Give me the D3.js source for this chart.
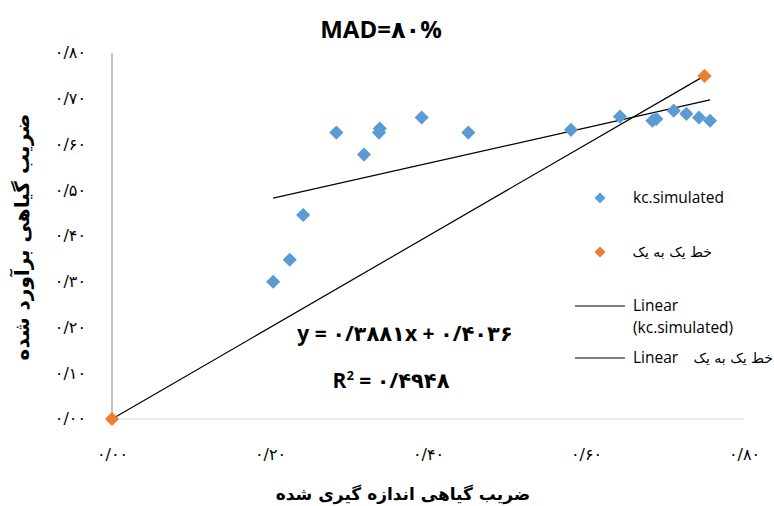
<!DOCTYPE html>
<html><head><meta charset="utf-8">
<script src="https://cdn.jsdelivr.net/npm/d3@7"></script>
<style>body{margin:0;background:#fff}svg{display:block}</style>
</head><body>
<script>
const measured = [0.204,0.225,0.242,0.284,0.319,0.338,0.339,0.392,0.451,0.581,0.643,0.684,0.689,0.711,0.727,0.743,0.757];
const simulated = [0.300,0.348,0.446,0.626,0.578,0.626,0.635,0.659,0.626,0.632,0.661,0.652,0.656,0.674,0.667,0.659,0.652];
const oneToOneX = [0.00,0.75];
const oneToOneY = [0.00,0.75];
const trendSlope = 0.3881, trendIntercept = 0.4036;
const xTicks = [0,0.2,0.4,0.6,0.8];
const yTicks = [0,0.1,0.2,0.3,0.4,0.5,0.6,0.7,0.8];
const titleText = "MAD=۸۰%";
const xTitle = "ضریب گیاهی اندازه گیری شده";
const yTitle = "ضریب گیاهی برآورد شده";
const eqText = "y = ۰/۳۸۸۱x + ۰/۴۰۳۶";
const r2Value = "۰/۴۹۴۸";
const legendSeries = ["kc.simulated","خط یک به یک"];

const fa = s => s.replace(/\d/g, d => "۰۱۲۳۴۵۶۷۸۹"[+d]);
const W=774,H=506;
const svg=d3.select("body").append("svg").attr("width",W).attr("height",H);
const x=d3.scaleLinear().domain([0,0.8]).range([112,744]);
const y=d3.scaleLinear().domain([0,0.8]).range([419,53]);
const font="'DejaVu Sans', 'Open Sans', sans-serif";
const lf="'Open Sans','DejaVu Sans',sans-serif";
const tf=d=>fa(d3.format(".2f")(d)).replace(".","/");

// axes
svg.append("line").attr("x1",x(0)).attr("x2",x(0.8)).attr("y1",y(0)).attr("y2",y(0)).attr("stroke","#d9d9d9");
svg.append("line").attr("x1",x(0)).attr("x2",x(0)).attr("y1",y(0)).attr("y2",y(0.8)).attr("stroke","#868686");
const xa=svg.append("g").attr("transform",`translate(0,${y(0)+27})`)
  .call(d3.axisBottom(x).tickValues(xTicks).tickSize(0).tickFormat(tf));
xa.select(".domain").remove();
xa.selectAll("text").attr("font-family",font).attr("font-size",16).attr("fill","#000");
const ya=svg.append("g").attr("transform",`translate(86,0)`)
  .call(d3.axisLeft(y).tickValues(yTicks).tickSize(0).tickPadding(0).tickFormat(tf));
ya.select(".domain").remove();
ya.selectAll("text").attr("font-family",font).attr("font-size",16).attr("fill","#000").attr("dy","0.3em");

// 1:1 line
svg.append("line").attr("x1",x(oneToOneX[0])).attr("y1",y(oneToOneY[0])).attr("x2",x(oneToOneX[1])).attr("y2",y(oneToOneY[1])).attr("stroke","#000").attr("stroke-width",1.2);
// trend line
const tx0=d3.min(measured), tx1=d3.max(measured);
svg.append("line").attr("x1",x(tx0)).attr("y1",y(trendSlope*tx0+trendIntercept)).attr("x2",x(tx1)).attr("y2",y(trendSlope*tx1+trendIntercept)).attr("stroke","#000").attr("stroke-width",1.2);

const diamond=d3.symbol(d3.symbolSquare,100)();
svg.append("g").selectAll("path").data(measured).join("path")
  .attr("d",diamond).attr("transform",(d,i)=>`translate(${x(d)},${y(simulated[i])}) rotate(45)`).attr("fill","#5B9BD5");
svg.append("g").selectAll("path").data(oneToOneX).join("path")
  .attr("d",diamond).attr("transform",(d,i)=>`translate(${x(d)},${y(oneToOneY[i])}) rotate(45)`).attr("fill","#ED7D31");

// titles
svg.append("text").attr("x",381).attr("y",38).attr("text-anchor","middle").attr("font-family",lf).attr("font-weight","bold").attr("font-size",24).text(titleText);
svg.append("text").attr("x",403).attr("y",500).attr("text-anchor","middle").attr("font-family",font).attr("font-weight","bold").attr("font-size",17).text(xTitle);
svg.append("text").attr("transform","translate(29,237) rotate(-90)").attr("text-anchor","middle").attr("font-family",font).attr("font-weight","bold").attr("font-size",20).text(yTitle);

// equation
svg.append("text").attr("x",405).attr("y",341).attr("text-anchor","middle").attr("font-family",lf).attr("font-weight","bold").attr("font-size",21).text(eqText);
const r2=svg.append("text").attr("x",391).attr("y",388).attr("text-anchor","middle").attr("font-family",lf).attr("font-weight","bold").attr("font-size",21);
r2.append("tspan").text("R");
r2.append("tspan").attr("font-size",13).attr("dy",-8).text("2");
r2.append("tspan").attr("dy",8).text(" = "+r2Value);

// legend
const sd=d3.symbol(d3.symbolSquare,60)();
svg.append("path").attr("d",sd).attr("transform","translate(600,198) rotate(45)").attr("fill","#5B9BD5");
svg.append("text").attr("x",633).attr("y",203).attr("font-family",lf).attr("font-size",15.5).text(legendSeries[0]);
svg.append("path").attr("d",sd).attr("transform","translate(600,252) rotate(45)").attr("fill","#ED7D31");
svg.append("text").attr("x",712).attr("y",257).attr("text-anchor","end").attr("font-family",font).attr("font-size",14).text(legendSeries[1]);
svg.append("line").attr("x1",575).attr("x2",625).attr("y1",306).attr("y2",306).attr("stroke","#000").attr("stroke-width",1.2);
svg.append("text").attr("x",633).attr("y",311).attr("font-family",lf).attr("font-size",15.5).text("Linear");
svg.append("text").attr("x",633).attr("y",333).attr("font-family",lf).attr("font-size",15.5).text("(kc.simulated)");
svg.append("line").attr("x1",575).attr("x2",625).attr("y1",358).attr("y2",358).attr("stroke","#000").attr("stroke-width",1.2);
svg.append("text").attr("x",633).attr("y",363).attr("font-family",lf).attr("font-size",15.5).text("Linear");
svg.append("text").attr("x",773).attr("y",363).attr("text-anchor","end").attr("font-family",font).attr("font-size",14).text(legendSeries[1]);
</script>
</body></html>
